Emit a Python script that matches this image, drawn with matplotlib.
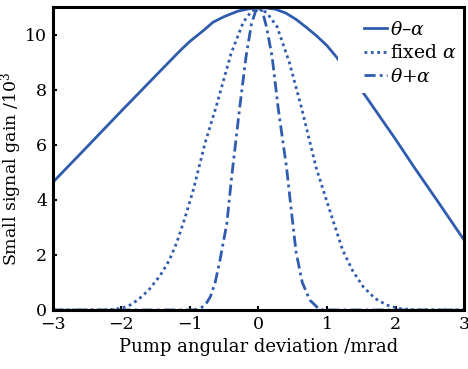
import matplotlib
matplotlib.use("Agg")
import matplotlib.pyplot as plt
from matplotlib.patches import Rectangle

# curva theta - alpha (continua)
x_menos = [-3.0, -2.5, -2.0, -1.5, -1.14, -1.0, -0.8, -0.66, -0.5, -0.3, -0.15, 0.0, 0.1,
           0.25, 0.4, 0.55, 0.7, 0.85, 1.0, 1.14, 1.3, 1.54, 2.0, 2.27, 2.6, 3.0]
y_menos = [4.63, 5.92, 7.22, 8.5, 9.42, 9.75, 10.15, 10.45, 10.65, 10.85, 10.93, 10.97, 10.97,
           10.92, 10.78, 10.55, 10.26, 9.95, 9.6, 9.18, 8.65, 7.85, 6.2, 5.19, 4.0, 2.54]

# alpha fijo (punteada)
x_fijo = [-3.0, -2.2, -2.0, -1.87, -1.75, -1.6, -1.43, -1.3, -1.19, -1.07, -0.95, -0.78, -0.61,
          -0.4, -0.22, -0.1, 0.0, 0.12, 0.27, 0.45, 0.62, 0.84, 1.04, 1.23, 1.38, 1.53, 1.7,
          1.87, 2.05, 2.3, 3.0]
y_fijo = [0.0, 0.0, 0.06, 0.18, 0.38, 0.72, 1.26, 1.8, 2.45, 3.35, 4.35, 6.04, 7.43,
          9.3, 10.45, 10.85, 10.95, 10.8, 10.3, 9.0, 7.43, 5.19, 3.62, 2.17, 1.4, 0.84, 0.42,
          0.18, 0.05, 0.0, 0.0]

# curva theta + alpha (raya-punto)
x_mas = [-3.0, -0.95, -0.87, -0.78, -0.7, -0.63, -0.56, -0.46, -0.39, -0.27, -0.18, -0.1, -0.04,
         0.01, 0.06, 0.12, 0.2, 0.29, 0.41, 0.48, 0.55, 0.64, 0.75, 0.89, 0.95, 3.0]
y_mas = [0.0, 0.0, 0.04, 0.16, 0.48, 1.0, 1.81, 3.14, 4.83, 7.4, 9.2, 10.4, 10.85,
         10.95, 10.84, 10.26, 9.2, 7.3, 5.19, 3.62, 2.1, 1.0, 0.36, 0.02, 0.0, 0.0]

x_ticks = [-3, -2, -1, 0, 1, 2, 3]
y_ticks = [0, 2, 4, 6, 8, 10]

plt.rcParams["font.family"] = ["DejaVu Serif"]
plt.rcParams["mathtext.fontset"] = "dejavuserif"

azul = "#2f5cae"
lw = 2.0

fig = plt.figure(figsize=(4.68, 3.69), dpi=100)
ax = fig.add_axes([0.1126, 0.16, 0.879, 0.821])

ax.plot(x_menos, y_menos, color=azul, lw=lw, ls="-", label=r"$\theta$–$\alpha$")
ax.plot(x_fijo, y_fijo, color=azul, lw=lw, ls=(0, (1, 1.3)), label=r"fixed $\alpha$")
ax.plot(x_mas, y_mas, color=azul, lw=lw, ls=(0, (4, 1.5, 1, 1.5)), label=r"$\theta$+$\alpha$")

# fondo blanco de la leyenda (tapa la curva como en el original)
ax.add_patch(Rectangle((0.694, 0.716), 0.306, 0.284, transform=ax.transAxes,
                       facecolor="white", edgecolor="none", zorder=2.4))

ax.set_xlim(-3, 3)
ax.set_ylim(0, 11)
ax.set_xticks(x_ticks)
ax.set_yticks(y_ticks)
ax.tick_params(direction="in", length=3, width=1.5, labelsize=12.5, top=False, right=False, pad=4)
for s in ax.spines.values():
    s.set_linewidth(2.2)

ax.set_xlabel("Pump angular deviation /mrad", fontsize=13, labelpad=4)
ax.set_ylabel(r"Small signal gain /10$^3$", fontsize=12.5)
ax.yaxis.set_label_coords(-0.07, 0.465)

leg = ax.legend(loc="upper right", bbox_to_anchor=(1.0, 1 - 6 / 303), fontsize=13.5,
                frameon=False, handlelength=1.23, handletextpad=0.16, labelspacing=0.3,
                borderpad=0.3, borderaxespad=0.1)
leg.set_zorder(3)

fig.savefig("out.png", dpi=100)
